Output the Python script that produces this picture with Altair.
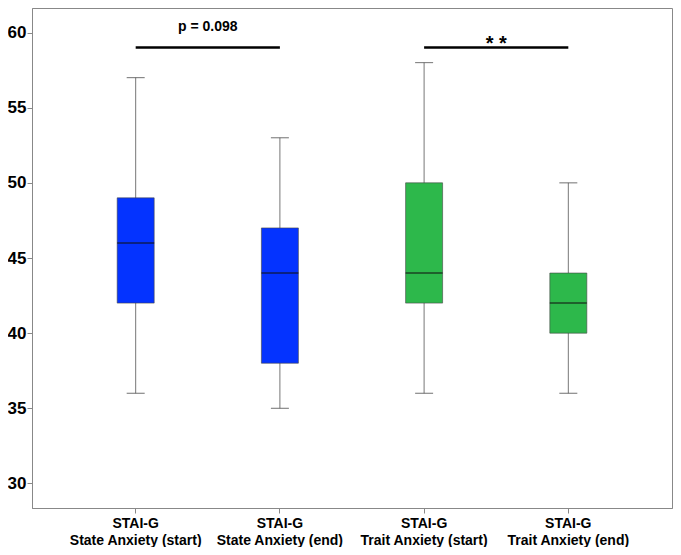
import altair as alt
import pandas as pd

cats = ["STAI-G|State Anxiety (start)", "STAI-G|State Anxiety (end)",
        "STAI-G|Trait Anxiety (start)", "STAI-G|Trait Anxiety (end)"]
mins = [36, 35, 36, 36]
q1s = [42, 38, 42, 40]
meds = [46, 44, 44, 42]
q3s = [49, 47, 50, 44]
maxs = [57, 53, 58, 50]
colors = ["#0433FF", "#0433FF", "#2DB84B", "#2DB84B"]

sig_left = [cats[0], cats[2]]
sig_right = [cats[1], cats[3]]
sig_y = [59, 59]
sig_text = ["p = 0.098", "* *"]
sig_text_y = [60.35, 59.25]
sig_text_size = [14, 20]

df = pd.DataFrame({"cat": cats, "mn": mins, "q1": q1s, "med": meds,
                   "q3": q3s, "mx": maxs, "col": colors})
sig = pd.DataFrame({"a": sig_left, "b": sig_right, "y": sig_y,
                    "t": sig_text, "ty": sig_text_y, "fs": sig_text_size})

xscale = alt.Scale(domain=cats, paddingInner=0, paddingOuter=0.219)
yscale = alt.Scale(domain=[28.37, 61.63], nice=False, zero=False)
xaxis = alt.Axis(title=None, labelExpr="split(datum.label, '|')", labelAngle=0,
                 labelFont="Liberation Sans", labelFontWeight="bold",
                 labelFontSize=14, labelLineHeight=17, labelColor="black",
                 labelPadding=3)
yaxis = alt.Axis(title=None, values=[30, 35, 40, 45, 50, 55, 60],
                 labelFont="Liberation Sans", labelFontWeight="bold",
                 labelFontSize=17, labelColor="black", labelPadding=1)

X = alt.X("cat:N", scale=xscale, axis=xaxis, sort=cats)
base = alt.Chart(df)

whisk = base.mark_rule(color="#777", strokeWidth=1).encode(
    x=X, y=alt.Y("mn:Q", scale=yscale, axis=yaxis), y2="mx:Q")
cap_lo = base.mark_tick(color="#555", thickness=1.2, size=18).encode(
    x=X, y=alt.Y("mn:Q", scale=yscale))
cap_hi = base.mark_tick(color="#555", thickness=1.2, size=18).encode(
    x=X, y=alt.Y("mx:Q", scale=yscale))
box = base.mark_bar(size=37, stroke="#444", strokeWidth=0.6).encode(
    x=X, y=alt.Y("q1:Q", scale=yscale), y2="q3:Q",
    color=alt.Color("col:N", scale=None))
med = base.mark_tick(color="#111", thickness=1.5, size=37).encode(
    x=X, y=alt.Y("med:Q", scale=yscale))

sbase = alt.Chart(sig)
sline = sbase.mark_rule(color="black", strokeWidth=2.5).encode(
    x=alt.X("a:N", scale=xscale, sort=cats, axis=xaxis),
    x2="b:N",
    y=alt.Y("y:Q", scale=yscale))
stext = sbase.mark_text(font="Liberation Sans", fontWeight="bold",
                        color="black", baseline="middle").encode(
    x=alt.X("a:N", scale=xscale, sort=cats, bandPosition=1, axis=xaxis),
    y=alt.Y("ty:Q", scale=yscale),
    text="t:N",
    size=alt.Size("fs:Q", scale=None))

chart = alt.layer(whisk, cap_lo, cap_hi, box, med, sline, stext).properties(
    width=640, height=500,
    autosize=alt.AutoSizeParams(type="none"),
    padding={"left": 24, "top": 0, "right": 1, "bottom": 39},
).configure_view(stroke="#888", strokeWidth=1).configure_axis(
    grid=False, domainColor="#888", tickColor="#888", tickSize=5)

chart.save("out.html", embed_options={"renderer": "svg", "actions": False})
